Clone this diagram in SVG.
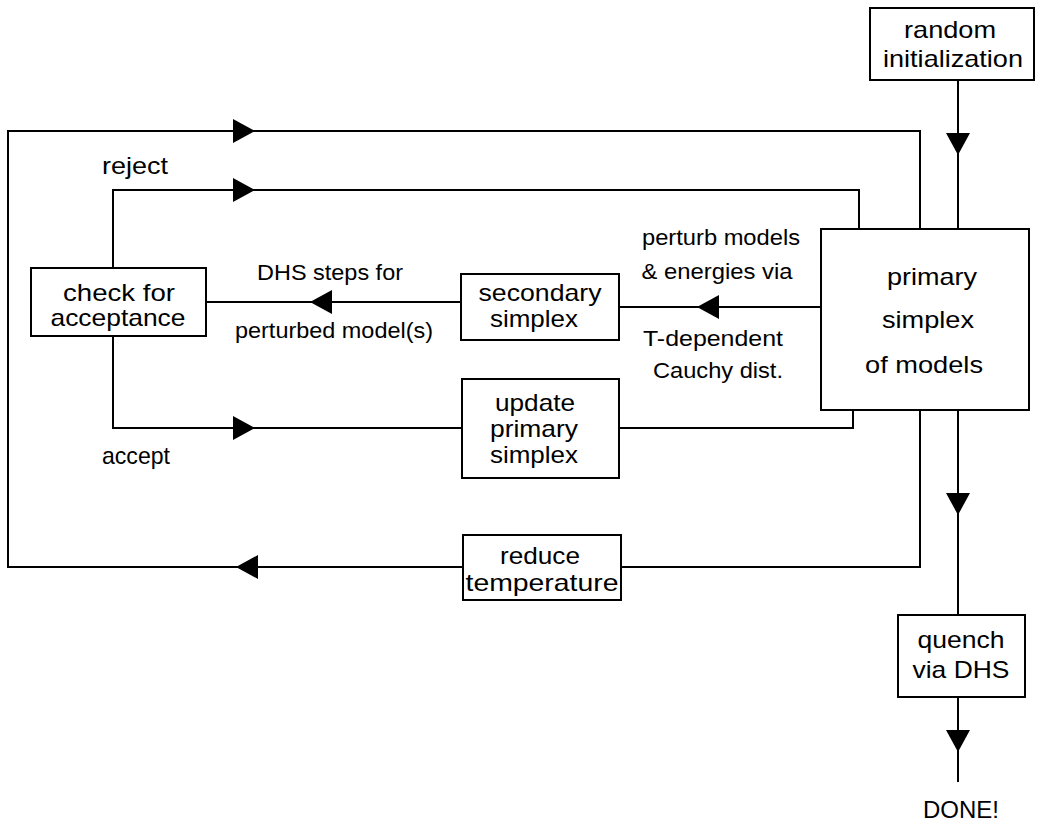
<svg xmlns="http://www.w3.org/2000/svg" xmlns:xlink="http://www.w3.org/1999/xlink" width="1037" height="837" viewBox="0 0 1037 837">
  <style>
    .box { fill: #fff; stroke: #000; stroke-width: 2; }
    .wire { fill: none; stroke: #000; stroke-width: 2; }
    .node { font-family: "Liberation Sans", Arial, sans-serif; font-size: 24px; fill: #000; text-anchor: middle; }
    .lbl { font-family: "Liberation Sans", Arial, sans-serif; font-size: 22px; fill: #000; text-anchor: middle; }
  </style>
  <defs>
    <!-- filled arrowhead, tip at origin, pointing along +x -->
    <polygon id="head" points="0,0 -22,-12 -22,12" fill="#000"/>
  </defs>
  <rect width="1037" height="837" fill="#fff"/>

  <g id="connectors">
    <!-- outer temperature loop -->
    <path class="wire" d="M920,410 V567 H621 M463,567 H8 V131 H920 V229"/>
    <!-- reject path -->
    <path class="wire" d="M113,268 V190 H859 V229"/>
    <!-- accept path -->
    <path class="wire" d="M113,336 V428 H462 M619,428 H853 V410"/>
    <!-- DHS steps -->
    <path class="wire" d="M206,302 H461"/>
    <!-- perturbation -->
    <path class="wire" d="M619,307 H821"/>
    <!-- initialization and quench -->
    <path class="wire" d="M958,80 V229 M958,410 V615 M958,697 V782"/>

    <use xlink:href="#head" transform="translate(255,131)"/>
    <use xlink:href="#head" transform="translate(255,190)"/>
    <use xlink:href="#head" transform="translate(255,428)"/>
    <use xlink:href="#head" transform="translate(236,567) rotate(180)"/>
    <use xlink:href="#head" transform="translate(310,302) rotate(180)"/>
    <use xlink:href="#head" transform="translate(697,307) rotate(180)"/>
    <use xlink:href="#head" transform="translate(958,155) rotate(90)"/>
    <use xlink:href="#head" transform="translate(958,515) rotate(90)"/>
    <use xlink:href="#head" transform="translate(958,752) rotate(90)"/>

    <text class="node" x="135" y="174" textLength="66" lengthAdjust="spacingAndGlyphs">reject</text>
    <text class="node" x="136" y="464" textLength="68" lengthAdjust="spacingAndGlyphs">accept</text>
    <text class="lbl" x="330" y="280" textLength="146" lengthAdjust="spacingAndGlyphs">DHS steps for</text>
    <text class="lbl" x="334" y="338" textLength="198" lengthAdjust="spacingAndGlyphs">perturbed model(s)</text>
    <text class="lbl" x="721" y="245" textLength="158" lengthAdjust="spacingAndGlyphs">perturb models</text>
    <text class="lbl" x="717" y="279" textLength="151" lengthAdjust="spacingAndGlyphs">&amp; energies via</text>
    <text class="lbl" x="713" y="346" textLength="140" lengthAdjust="spacingAndGlyphs">T-dependent</text>
    <text class="lbl" x="718" y="378" textLength="130" lengthAdjust="spacingAndGlyphs">Cauchy dist.</text>
    <text class="node" x="961" y="818" textLength="76" lengthAdjust="spacingAndGlyphs">DONE!</text>
  </g>

  <g id="random-initialization">
    <rect class="box" x="870" y="8" width="164" height="72"/>
    <text class="node" x="950" y="38" textLength="92" lengthAdjust="spacingAndGlyphs">random</text>
    <text class="node" x="953" y="67" textLength="140" lengthAdjust="spacingAndGlyphs">initialization</text>
  </g>

  <g id="check-for-acceptance">
    <rect class="box" x="31" y="268" width="175" height="68"/>
    <text class="node" x="119" y="301" font-size="23" textLength="112" lengthAdjust="spacingAndGlyphs">check for</text>
    <text class="node" x="118" y="326" font-size="23" textLength="135" lengthAdjust="spacingAndGlyphs">acceptance</text>
  </g>

  <g id="secondary-simplex">
    <rect class="box" x="461" y="274" width="158" height="66"/>
    <text class="node" x="540" y="301" textLength="123" lengthAdjust="spacingAndGlyphs">secondary</text>
    <text class="node" x="534" y="327" textLength="88" lengthAdjust="spacingAndGlyphs">simplex</text>
  </g>

  <g id="primary-simplex">
    <rect class="box" x="821" y="229" width="208" height="181"/>
    <text class="node" x="932" y="285" textLength="90" lengthAdjust="spacingAndGlyphs">primary</text>
    <text class="node" x="928" y="328" textLength="92" lengthAdjust="spacingAndGlyphs">simplex</text>
    <text class="node" x="924" y="373" textLength="118" lengthAdjust="spacingAndGlyphs">of models</text>
  </g>

  <g id="update-primary-simplex">
    <rect class="box" x="462" y="379" width="157" height="99"/>
    <text class="node" x="535" y="411" textLength="80" lengthAdjust="spacingAndGlyphs">update</text>
    <text class="node" x="534" y="437" textLength="88" lengthAdjust="spacingAndGlyphs">primary</text>
    <text class="node" x="534" y="463" textLength="88" lengthAdjust="spacingAndGlyphs">simplex</text>
  </g>

  <g id="reduce-temperature">
    <rect class="box" x="463" y="535" width="158" height="65"/>
    <text class="node" x="540" y="564" textLength="80" lengthAdjust="spacingAndGlyphs">reduce</text>
    <text class="node" x="542" y="591" textLength="153" lengthAdjust="spacingAndGlyphs">temperature</text>
  </g>

  <g id="quench-via-dhs">
    <rect class="box" x="898" y="615" width="127" height="82"/>
    <text class="node" x="961" y="648" textLength="87" lengthAdjust="spacingAndGlyphs">quench</text>
    <text class="node" x="961" y="678" textLength="97" lengthAdjust="spacingAndGlyphs">via DHS</text>
  </g>
</svg>
